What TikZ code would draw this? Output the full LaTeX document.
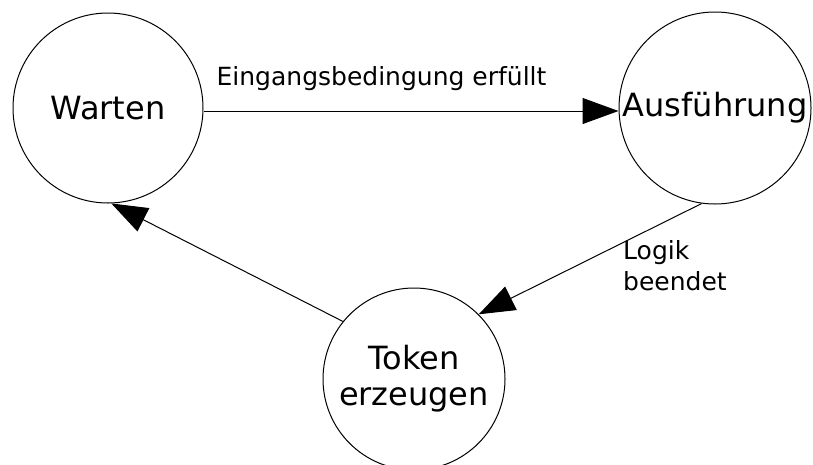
\documentclass[tikz,border=0pt]{standalone}
\usepackage{fontspec}
\setmainfont{DejaVu Sans}
\usetikzlibrary{arrows.meta}
\tikzset{
  state/.style={draw, circle, line width=1pt, inner sep=0pt, align=center,
    font=\fontsize{32}{36}\selectfont},
  flow/.style={draw, line width=1pt, -{Triangle[length=36pt,width=26pt]}},
  lbl/.style={inner sep=0pt, font=\fontsize{25}{31}\selectfont}
}
\begin{document}
\begin{tikzpicture}[x=1pt, y=-1pt]
  \useasboundingbox (0,0) rectangle (813,464);
  % states
  \node[state, minimum size=190pt] (W) at (108,108) {Warten};
  \node[state, minimum size=192pt] (A) at (715,108) {Ausführung};
  \node[state, minimum size=182pt] (T) at (414,379) {Token\\erzeugen};
  % transitions
  \draw[flow] ([yshift=-3pt]W.east) -- ([yshift=-3pt]A.west);
  \draw[flow] (A.-98) -- (T.45);
  \draw[flow] (T.141) -- (W.-88);
  % transition labels
  \node[lbl, anchor=base] (l1) at (381.5,85) {Eingangsbedingung erfüllt};
  \node[lbl, anchor=north west, align=left] (l2) at (623,240) {Logik\\beendet};
\end{tikzpicture}
\end{document}
